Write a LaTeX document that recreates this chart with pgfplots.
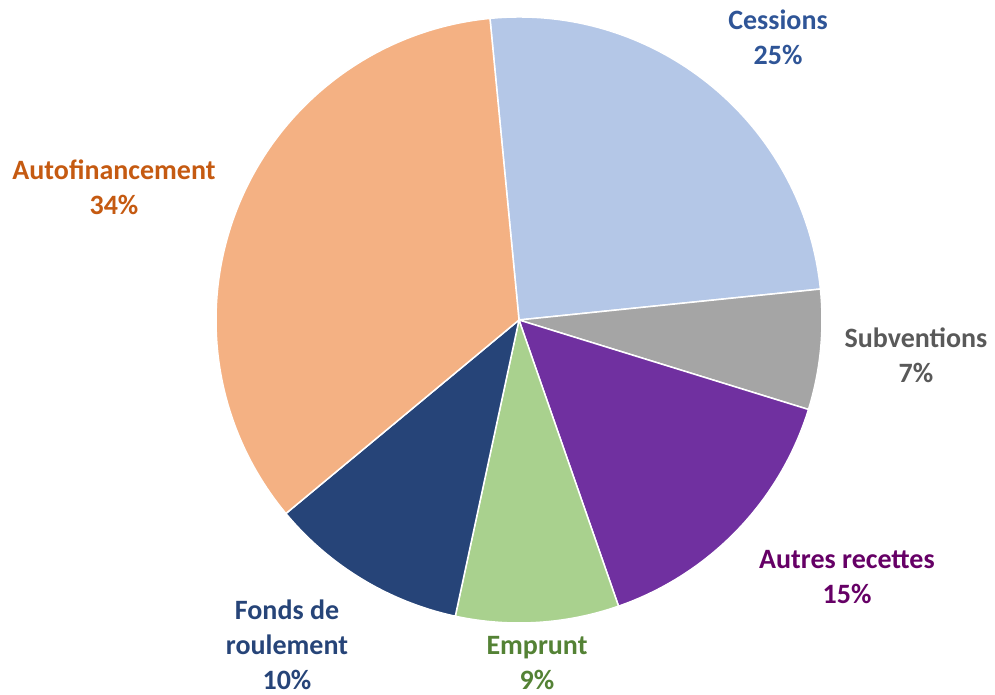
\documentclass[border=0pt]{standalone}
\usepackage{pgfplots}
\pgfplotsset{compat=1.18}
\usepackage{fontspec}
\setmainfont{Carlito}
\definecolor{cCes}{HTML}{B4C7E7}
\definecolor{cSub}{HTML}{A5A5A5}
\definecolor{cAut}{HTML}{7030A0}
\definecolor{cEmp}{HTML}{A9D18E}
\definecolor{cFon}{HTML}{264478}
\definecolor{cAuf}{HTML}{F4B183}
\definecolor{tCes}{HTML}{2F5597}
\definecolor{tSub}{HTML}{595959}
\definecolor{tAut}{HTML}{660066}
\definecolor{tEmp}{HTML}{548235}
\definecolor{tFon}{HTML}{264478}
\definecolor{tAuf}{HTML}{C55A11}
\begin{document}
\begin{tikzpicture}
% slice shares in percent (clockwise from 95.5 degrees)
\def\vCes{24.9}\def\vSub{6.4}\def\vAut{14.9}\def\vEmp{8.7}\def\vFon{10.6}\def\vAuf{34.5}
\pgfmathsetmacro\sA{95.5}
\pgfmathsetmacro\sB{\sA-3.6*\vCes}
\pgfmathsetmacro\sC{\sB-3.6*\vSub}
\pgfmathsetmacro\sD{\sC-3.6*\vAut}
\pgfmathsetmacro\sE{\sD-3.6*\vEmp}
\pgfmathsetmacro\sF{\sE-3.6*\vFon}
\begin{axis}[
  scale only axis, width=995pt, height=695pt,
  xmin=0, xmax=995, ymin=0, ymax=695,
  axis lines=none, clip=false,
]
\pgfplotsextra{
\path (axis cs:0,0) rectangle (axis cs:995,695);
\fill[cCes, draw=white, line width=1.5pt] (axis cs:519,375) -- ++(\sA:303pt) arc[start angle=\sA, delta angle=-3.6*\vCes, radius=303pt] -- cycle;
\fill[cSub, draw=white, line width=1.5pt] (axis cs:519,375) -- ++(\sB:303pt) arc[start angle=\sB, delta angle=-3.6*\vSub, radius=303pt] -- cycle;
\fill[cAut, draw=white, line width=1.5pt] (axis cs:519,375) -- ++(\sC:303pt) arc[start angle=\sC, delta angle=-3.6*\vAut, radius=303pt] -- cycle;
\fill[cEmp, draw=white, line width=1.5pt] (axis cs:519,375) -- ++(\sD:303pt) arc[start angle=\sD, delta angle=-3.6*\vEmp, radius=303pt] -- cycle;
\fill[cFon, draw=white, line width=1.5pt] (axis cs:519,375) -- ++(\sE:303pt) arc[start angle=\sE, delta angle=-3.6*\vFon, radius=303pt] -- cycle;
\fill[cAuf, draw=white, line width=1.5pt] (axis cs:519,375) -- ++(\sF:303pt) arc[start angle=\sF, delta angle=-3.6*\vAuf, radius=303pt] -- cycle;
}
\begin{scope}[every node/.style={font=\fontsize{28}{35}\selectfont\bfseries, align=center, inner sep=0pt}]
\node[text=tCes] at (axis cs:778,657.5) {Cessions\\25\%};
\node[text=tSub] at (axis cs:916,339.5) {Subventions\\7\%};
\node[text=tAut] at (axis cs:847,118) {Autres recettes\\15\%};
\node[text=tEmp] at (axis cs:537,32) {Emprunt\\9\%};
\node[text=tFon] at (axis cs:287,50) {Fonds de\\roulement\\10\%};
\node[text=tAuf] at (axis cs:114,507.5) {Autofinancement\\34\%};
\end{scope}
\end{axis}
\end{tikzpicture}
\end{document}
